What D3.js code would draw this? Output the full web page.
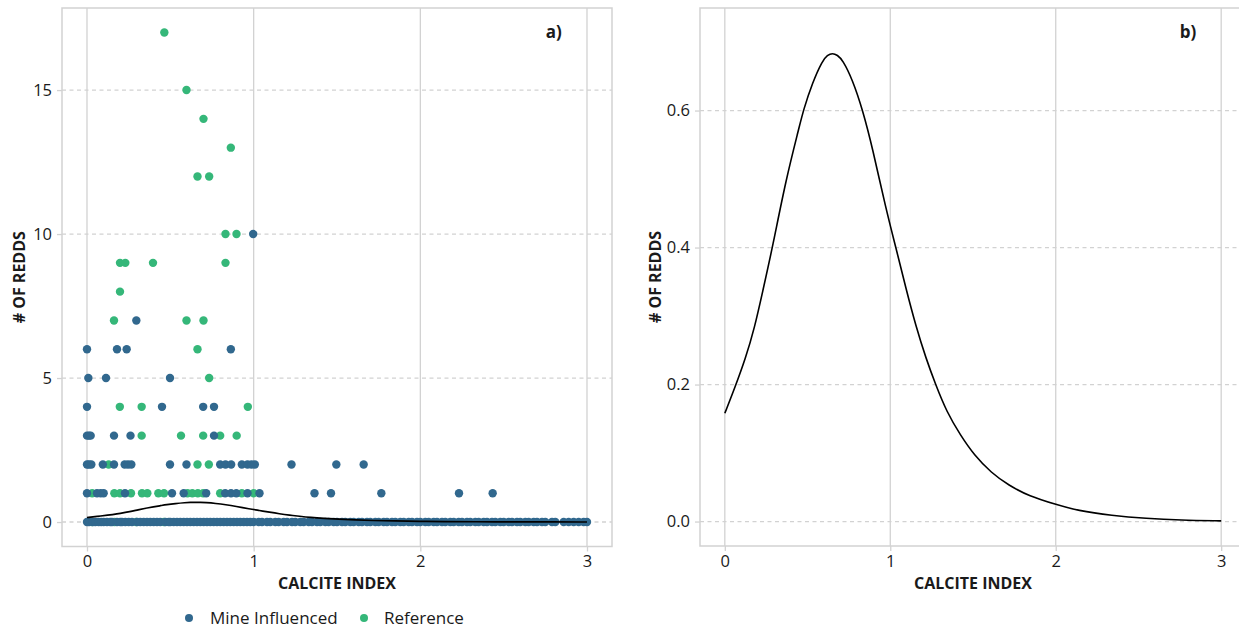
<!DOCTYPE html>
<html>
<head>
<meta charset="utf-8">
<script src="https://cdn.jsdelivr.net/npm/d3@7/dist/d3.min.js"></script>
<style>
  html, body { margin: 0; padding: 0; background: #fff; }
  svg { display: block; font-family: "Open Sans", "DejaVu Sans", sans-serif; }
</style>
</head>
<body>
<svg id="chart" width="1239" height="631"></svg>
<script>
// ---------------- DATA ----------------
const xTicks = [0, 1, 2, 3];
const yTicksA = [0, 5, 10, 15];
const yTicksB = [0, 0.2, 0.4, 0.6];
const yTickLabelsB = ["0.0", "0.2", "0.4", "0.6"];
const seriesNames = ["Mine Influenced", "Reference"];
const seriesColors = ["#31688e", "#35b779"];

// Mine Influenced sites: [# of redds, [calcite index values]]
const mineInfluenced = [
  [10, [0.997]],
  [7, [0.296]],
  [6, [0.0, 0.180, 0.238, 0.863]],
  [5, [0.008, 0.114, 0.498]],
  [4, [0.0, 0.450, 0.697, 0.762]],
  [3, [0.0, 0.012, 0.022, 0.162, 0.261, 0.762]],
  [2, [0.0, 0.012, 0.026, 0.095, 0.162, 0.226, 0.246, 0.266, 0.498, 0.597, 0.799, 0.831, 0.865, 0.929, 0.963, 0.987, 1.007, 1.227, 1.496, 1.660]],
  [1, [0.0, 0.060, 0.082, 0.100, 0.228, 0.510, 0.580, 0.715, 0.829, 0.864, 0.896, 0.963, 1.035, 1.365, 1.464, 1.766, 2.232, 2.434]],
  [0, [0, 0.012, 0.035, 0.05, 0.07, 0.085, 0.1, 0.12, 0.14, 0.15, 0.18, 0.2, 0.21, 0.23, 0.25, 0.27, 0.3, 0.32, 0.34, 0.36, 0.38, 0.4, 0.42, 0.44, 0.47, 0.49, 0.5, 0.52, 0.54, 0.56, 0.58, 0.6, 0.62, 0.64, 0.66, 0.68, 0.7, 0.72, 0.74, 0.76, 0.78, 0.8, 0.82, 0.84, 0.86, 0.88, 0.9, 0.92, 0.94, 0.96, 0.98, 1.0, 1.03, 1.05, 1.08, 1.1, 1.13, 1.15, 1.18, 1.2, 1.23, 1.25, 1.28, 1.3, 1.33, 1.35, 1.38, 1.4, 1.43, 1.45, 1.48, 1.5, 1.53, 1.55, 1.58, 1.6, 1.63, 1.65, 1.68, 1.7, 1.73, 1.75, 1.78, 1.8, 1.83, 1.85, 1.88, 1.9, 1.93, 1.95, 1.98, 2.0, 2.03, 2.05, 2.08, 2.1, 2.13, 2.15, 2.18, 2.2, 2.23, 2.25, 2.28, 2.3, 2.33, 2.35, 2.38, 2.4, 2.43, 2.45, 2.48, 2.5, 2.53, 2.55, 2.58, 2.6, 2.63, 2.65, 2.68, 2.7, 2.73, 2.75, 2.79, 2.81, 2.86, 2.89, 2.92, 2.95, 2.98, 3.0]]
];

// Reference sites: [# of redds, [calcite index values]]
const referenceSites = [
  [17, [0.464]],
  [15, [0.597]],
  [14, [0.699]],
  [13, [0.863]],
  [12, [0.663, 0.733]],
  [10, [0.831, 0.897]],
  [9, [0.198, 0.230, 0.396, 0.831]],
  [8, [0.198]],
  [7, [0.162, 0.597, 0.699]],
  [6, [0.663]],
  [5, [0.733]],
  [4, [0.197, 0.328, 0.965]],
  [3, [0.328, 0.564, 0.697, 0.799, 0.898]],
  [2, [0.130, 0.663, 0.731]],
  [1, [0.031, 0.164, 0.198, 0.264, 0.330, 0.362, 0.428, 0.462, 0.603, 0.632, 0.665, 0.697, 0.799, 0.929, 1.000]],
  [0, [0.030, 0.165, 0.296, 0.462]]
];

// Fitted curve (predicted # of redds vs calcite index)
const curveCalcite = [0, 0.06, 0.125, 0.18, 0.228, 0.288, 0.369, 0.45, 0.474, 0.53, 0.59, 0.62, 0.651, 0.68, 0.712, 0.772, 0.833, 0.893, 0.974, 1.034, 1.095, 1.154, 1.216, 1.274, 1.341, 1.424, 1.507, 1.611, 1.715, 1.84, 2.0, 2.131, 2.339, 2.547, 2.755, 3.0];
const curveRedds = [0.158, 0.195, 0.238, 0.283, 0.335, 0.4, 0.499, 0.576, 0.6, 0.641, 0.673, 0.681, 0.684, 0.681, 0.674, 0.645, 0.601, 0.545, 0.456, 0.4, 0.34, 0.286, 0.238, 0.2, 0.16, 0.126, 0.097, 0.071, 0.053, 0.037, 0.025, 0.016, 0.0087, 0.0044, 0.002, 0.001];

// ---------------- DRAW ----------------
const svg = d3.select("#chart");
const gridCol = "#d2d2d2";
const textCol = "#1a1a1a";

function toPoints(groups, series) {
  const pts = [];
  groups.forEach(([y, xs]) => xs.forEach(x => pts.push({x, y, series})));
  return pts;
}
const curveData = curveCalcite.map((x, i) => ({x, y: curveRedds[i]}));

function panel(opts) {
  const {x0, x1, y0, y1, yDomain, yTicks, yFmt, label, labelX, labelY} = opts;
  const x = d3.scaleLinear().domain([-0.15, 3.15]).range([x0, x1]);
  const y = d3.scaleLinear().domain(yDomain).range([y1, y0]);
  const g = svg.append("g");

  g.append("g").selectAll("line").data(xTicks).join("line")
    .attr("x1", d => x(d)).attr("x2", d => x(d))
    .attr("y1", y0).attr("y2", y1)
    .attr("stroke", gridCol).attr("stroke-width", 1.3);
  g.append("g").selectAll("line").data(yTicks).join("line")
    .attr("x1", x0).attr("x2", x1)
    .attr("y1", d => y(d)).attr("y2", d => y(d))
    .attr("stroke", gridCol).attr("stroke-width", 1.3)
    .attr("stroke-dasharray", "4,3.5");

  const xAxis = g.append("g").attr("transform", `translate(0,${y1})`)
    .call(d3.axisBottom(x).tickValues(xTicks).tickFormat(d3.format("d")).tickSize(5).tickPadding(4));
  const yAxis = g.append("g").attr("transform", `translate(${x0},0)`)
    .call(d3.axisLeft(y).tickValues(yTicks).tickFormat(yFmt).tickSize(5).tickPadding(5));
  [xAxis, yAxis].forEach(a => {
    a.select(".domain").remove();
    a.selectAll(".tick line").attr("stroke", gridCol).attr("stroke-width", 1.3);
    a.selectAll(".tick text").attr("fill", textCol).style("font-size", "16.5px")
      .style("font-family", '"Open Sans", sans-serif');
  });

  g.append("rect").attr("x", x0).attr("y", y0)
    .attr("width", x1 - x0).attr("height", y1 - y0)
    .attr("fill", "none").attr("stroke", gridCol).attr("stroke-width", 1.5);

  g.append("text").attr("x", (x0 + x1) / 2).attr("y", 589)
    .attr("text-anchor", "middle").attr("fill", textCol)
    .style("font-size", "16px").style("font-weight", "bold")
    .text("CALCITE INDEX");
  g.append("text")
    .attr("transform", `translate(${opts.titleX},${(y0 + y1) / 2}) rotate(-90)`)
    .attr("text-anchor", "middle").attr("dy", "0.35em").attr("fill", textCol)
    .style("font-size", "16px").style("font-weight", "bold")
    .text("# OF REDDS");

  g.append("text").attr("x", x(labelX)).attr("y", y(labelY)).attr("dy", "0.35em")
    .attr("text-anchor", "middle").attr("fill", textCol)
    .style("font-size", "17px").style("font-weight", "bold").text(label);

  return {g, x, y};
}

// Panel a
const A = panel({x0: 62, x1: 612, y0: 8, y1: 546.5, yDomain: [-0.85, 17.85],
  yTicks: yTicksA, yFmt: d3.format("d"), label: "a)", labelX: 2.8, labelY: 17, titleX: 19});

const refPts = toPoints(referenceSites, 1);
const minePts = toPoints(mineInfluenced, 0);
A.g.append("g").selectAll("circle").data(refPts.concat(minePts)).join("circle")
  .attr("cx", d => A.x(d.x)).attr("cy", d => A.y(d.y)).attr("r", 4.2)
  .attr("fill", d => seriesColors[d.series]);

const lineA = d3.line().x(d => A.x(d.x)).y(d => A.y(d.y)).curve(d3.curveBasis);
A.g.append("path").datum(curveData).attr("d", lineA)
  .attr("fill", "none").attr("stroke", "#000").attr("stroke-width", 1.7);

// Panel b
const B = panel({x0: 700, x1: 1246, y0: 8, y1: 546, yDomain: [-0.0357, 0.7497],
  yTicks: yTicksB, yFmt: (d, i) => yTickLabelsB[i], label: "b)", labelX: 2.8, labelY: 0.714, titleX: 655});

const lineB = d3.line().x(d => B.x(d.x)).y(d => B.y(d.y)).curve(d3.curveBasis);
B.g.append("path").datum(curveData).attr("d", lineB)
  .attr("fill", "none").attr("stroke", "#000").attr("stroke-width", 1.6);

// Legend
const legend = svg.append("g").attr("transform", "translate(0,618)");
const legendItems = [{x: 189, tx: 210}, {x: 364, tx: 384}];
seriesNames.forEach((name, i) => {
  legend.append("circle").attr("cx", legendItems[i].x).attr("cy", 0).attr("r", 4)
    .attr("fill", seriesColors[i]);
  legend.append("text").attr("x", legendItems[i].tx).attr("y", 0).attr("dy", "0.35em")
    .attr("fill", textCol).style("font-size", "17px").text(name);
});
</script>
</body>
</html>
